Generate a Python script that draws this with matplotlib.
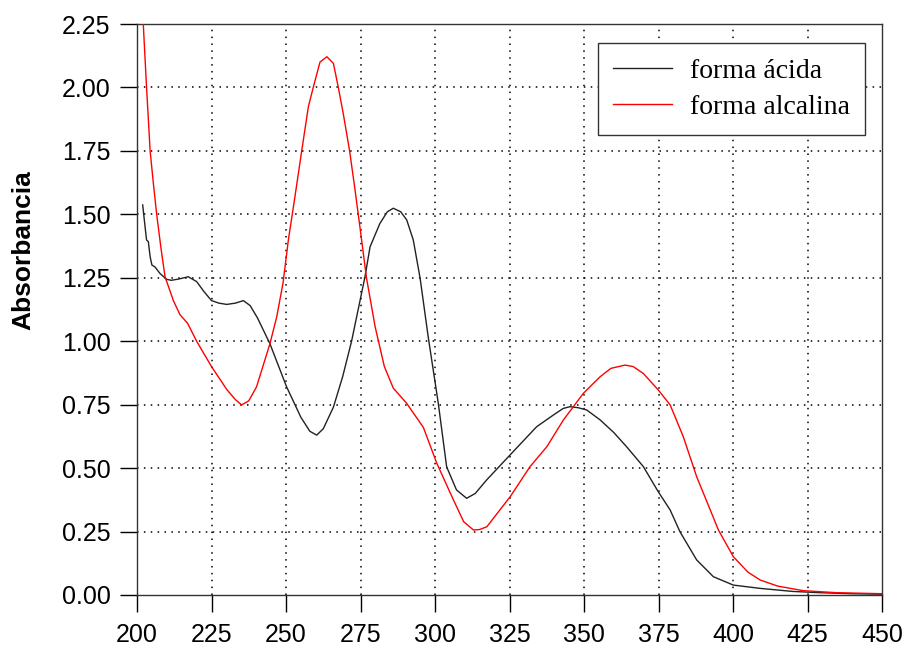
import matplotlib.pyplot as plt

# forma acida (black)
x_acida = [201.9, 202.7, 203.2, 203.8, 204.4, 205.0, 206.0, 207.7, 209.9, 211.5, 214.0,
           217.2, 220.0, 222.5, 225.0, 227.5, 230.1, 233.0, 235.7, 238.0, 240.5,
           244.6, 250.2, 255.0, 258.0, 260.3, 262.5, 265.9, 269.0, 272.0, 276.5,
           278.2, 281.5, 284.0, 286.0, 288.5, 290.5, 292.7, 295.0, 297.7, 301.1,
           303.9, 307.2, 310.6, 313.5, 317.3, 325.2, 334.1, 339.7, 343.0, 345.3,
           348.0, 350.9, 355.4, 360.0, 364.3, 369.9, 374.9, 378.9, 382.2, 387.8,
           393.4, 400.1, 409.1, 420.0, 429.2, 440.0, 450.0]
y_acida = [1.537, 1.451, 1.399, 1.392, 1.333, 1.300, 1.293, 1.267, 1.244, 1.240, 1.245,
           1.254, 1.235, 1.195, 1.160, 1.150, 1.145, 1.150, 1.160, 1.140, 1.090,
           0.990, 0.820, 0.700, 0.645, 0.630, 0.655, 0.740, 0.860, 1.000, 1.254,
           1.372, 1.464, 1.510, 1.524, 1.510, 1.478, 1.399, 1.248, 1.018, 0.755,
           0.505, 0.414, 0.381, 0.400, 0.453, 0.552, 0.663, 0.709, 0.735, 0.742,
           0.738, 0.729, 0.690, 0.640, 0.584, 0.506, 0.407, 0.335, 0.249, 0.138,
           0.072, 0.039, 0.026, 0.014, 0.009, 0.005, 0.003]

# forma alcalina (red)
x_alcalina = [201.8, 202.1, 203.2, 204.4, 205.5, 206.6, 208.0, 209.4, 212.2, 214.4,
              217.0, 220.0, 225.0, 230.1, 233.0, 235.1, 237.5, 240.1, 244.6, 246.9,
              249.0, 250.8, 253.0, 255.3, 257.5, 259.2, 261.4, 263.7, 265.9, 267.5,
              269.2, 271.3, 273.0, 274.8, 277.0, 279.9, 283.0, 286.0, 290.5, 296.1,
              300.6, 306.2, 309.6, 312.9, 315.0, 317.4, 325.2, 331.9, 337.5, 343.1,
              349.8, 355.4, 359.0, 363.8, 366.5, 369.9, 374.9, 378.9, 383.3, 387.8,
              390.1, 395.1, 400.1, 405.0, 409.1, 415.0, 423.6, 434.8, 450.0]
y_alcalina = [2.35, 2.250, 2.000, 1.750, 1.620, 1.500, 1.370, 1.254, 1.160, 1.105,
              1.070, 1.000, 0.900, 0.810, 0.770, 0.749, 0.765, 0.820, 0.990, 1.097,
              1.230, 1.400, 1.570, 1.753, 1.924, 2.003, 2.100, 2.121, 2.095, 2.003,
              1.897, 1.753, 1.610, 1.450, 1.250, 1.057, 0.900, 0.815, 0.755, 0.660,
              0.519, 0.374, 0.289, 0.256, 0.258, 0.269, 0.387, 0.506, 0.584, 0.690,
              0.795, 0.860, 0.893, 0.906, 0.900, 0.873, 0.808, 0.749, 0.624, 0.466,
              0.400, 0.256, 0.151, 0.090, 0.059, 0.035, 0.017, 0.009, 0.005]

x_ticks = [200, 225, 250, 275, 300, 325, 350, 375, 400, 425, 450]
y_ticks = [0.0, 0.25, 0.5, 0.75, 1.0, 1.25, 1.5, 1.75, 2.0, 2.25]

plt.rcParams['font.family'] = ['Liberation Sans', 'DejaVu Sans']

fig = plt.figure(figsize=(9.08, 6.47), dpi=100)
ax = fig.add_axes([0.1509, 0.0804, 0.8205, 0.8825])

for xv in x_ticks[1:-1]:
    ax.axvline(xv, color='black', lw=1.1, ls=(0, (1, 3.5)), zorder=1)
for yv in y_ticks[1:-1]:
    ax.axhline(yv, color='black', lw=1.1, ls=(0, (1, 3.5)), zorder=1)

ax.plot(x_acida, y_acida, color='#222222', lw=1.0, label='forma ácida', zorder=3)
ax.plot(x_alcalina, y_alcalina, color='red', lw=1.0, label='forma alcalina', zorder=3)

ax.set_xlim(200, 450)
ax.set_ylim(0, 2.25)
ax.set_xticks(x_ticks)
ax.set_yticks(y_ticks)
ax.set_yticklabels(['%.2f' % v for v in y_ticks])
ax.tick_params(axis='both', direction='out', length=12, width=1, labelsize=18,
               top=False, right=False)
ax.tick_params(axis='y', pad=7)
ax.tick_params(axis='x', pad=8)
for s in ax.spines.values():
    s.set_linewidth(1.0)
    s.set_color('#333333')

ax.set_ylabel('Absorbancia', fontsize=19, fontweight='bold')
ax.yaxis.set_label_coords(-0.137, 0.604)

leg = ax.legend(loc='upper right', bbox_to_anchor=(0.977, 0.967),
                prop={'family': 'Liberation Serif', 'size': 20},
                frameon=True, fancybox=False, edgecolor='#333333',
                framealpha=1, handlelength=2.1, handletextpad=0.65,
                borderpad=0.55, labelspacing=0.38, borderaxespad=0)
leg.get_frame().set_linewidth(1.0)

fig.savefig('out.png', dpi=100)
